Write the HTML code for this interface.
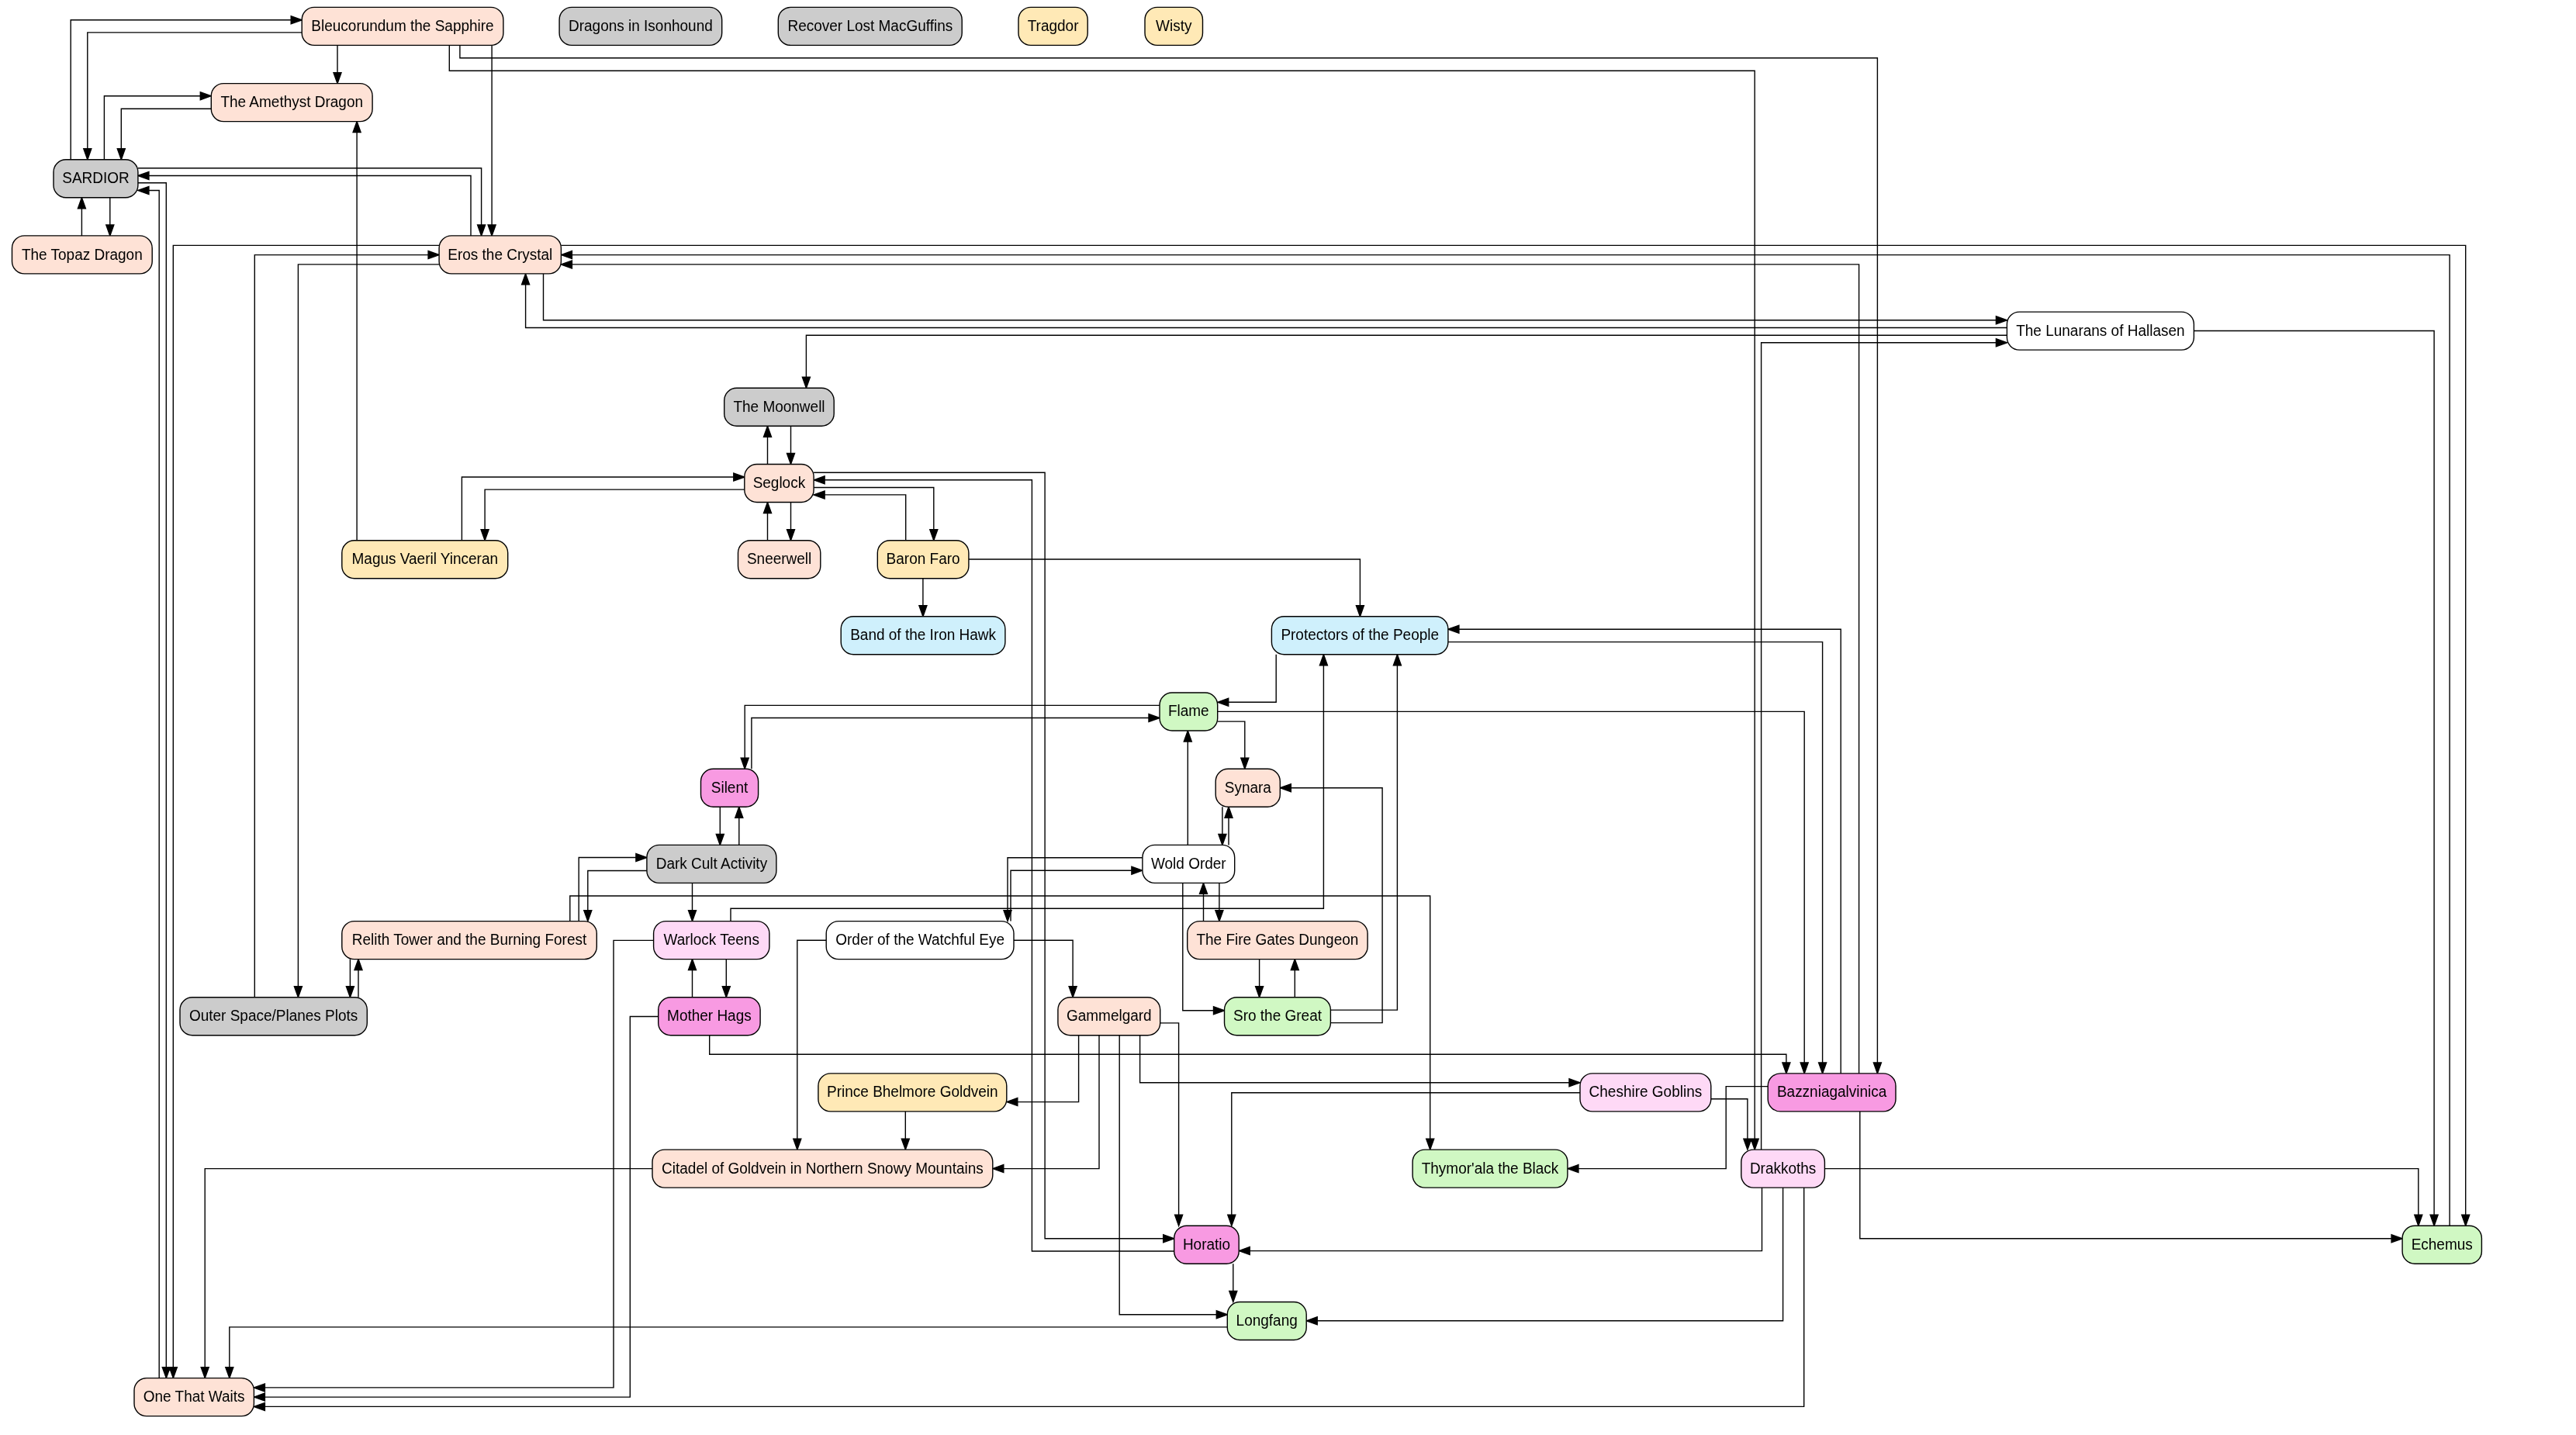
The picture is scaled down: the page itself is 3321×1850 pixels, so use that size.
<!DOCTYPE html><html><head><meta charset="utf-8"><style>html,body{margin:0;padding:0;background:#fff;}svg{display:block;}svg{will-change:transform;}text{font-family:"Liberation Sans",sans-serif;font-size:19px;fill:#000;}</style></head><body>
<svg width="3321" height="1850" viewBox="0 0 3321 1850">
<rect width="3321" height="1850" fill="#fff"/>
<path d="M91.2 205.8 L91.2 25.8 L375.2 25.8 M389.2 41.9 L112.8 41.9 L112.8 191.8 M435.0 58.4 L435.0 93.6 M579.3 58.4 L579.3 91.2 L2262.2 91.2 L2262.2 1468.1 M592.9 58.4 L592.9 74.8 L2420.4 74.8 L2420.4 1369.9 M634.1 58.4 L634.1 289.9 M134.4 205.8 L134.4 123.7 L258.3 123.7 M272.3 140.2 L156.3 140.2 L156.3 191.8 M460.1 696.7 L460.1 170.6 M177.9 216.8 L620.6 216.8 L620.6 289.9 M607.0 303.9 L607.0 226.5 L191.9 226.5 M177.9 235.8 L214.3 235.8 L214.3 1762.6 M205.2 1776.6 L205.2 245.5 L191.9 245.5 M105.4 303.9 L105.4 268.8 M141.8 254.8 L141.8 289.9 M566.1 316.4 L223.3 316.4 L223.3 1762.6 M328.3 1285.7 L328.3 328.6 L552.1 328.6 M566.1 340.9 L384.4 340.9 L384.4 1271.7 M2587.4 422.5 L677.6 422.5 L677.6 366.9 M700.5 352.9 L700.5 412.8 L2573.4 412.8 M723.4 316.4 L3178.7 316.4 L3178.7 1566.3 M3158.1 1580.3 L3158.1 328.6 L737.4 328.6 M2396.6 1383.9 L2396.6 340.9 L737.4 340.9 M2587.4 432.2 L1039.4 432.2 L1039.4 486.3 M2270.6 1482.1 L2270.6 441.8 L2573.4 441.8 M2828.4 426.5 L3138.1 426.5 L3138.1 1566.3 M989.5 598.5 L989.5 563.3 M1019.5 549.3 L1019.5 584.5 M595.4 696.7 L595.4 615.0 L945.8 615.0 M959.8 631.1 L625.1 631.1 L625.1 682.7 M1049.1 609.2 L1347.1 609.2 L1347.1 1596.8 L1499.7 1596.8 M1513.7 1613.0 L1330.4 1613.0 L1330.4 618.8 L1063.1 618.8 M1049.1 628.5 L1203.8 628.5 L1203.8 682.7 M1167.7 696.7 L1167.7 637.9 L1063.1 637.9 M989.5 696.7 L989.5 661.5 M1019.5 647.5 L1019.5 682.7 M1248.9 721.0 L1753.4 721.0 L1753.4 780.8 M1189.9 745.7 L1189.9 780.8 M2373.2 1383.9 L2373.2 811.2 L1880.9 811.2 M1866.9 827.6 L2349.6 827.6 L2349.6 1369.9 M1645.2 843.8 L1645.2 905.3 L1583.7 905.3 M942.0 1187.6 L942.0 1171.3 L1706.4 1171.3 L1706.4 857.8 M1715.4 1302.1 L1801.4 1302.1 L1801.4 857.8 M1495.0 909.4 L960.2 909.4 L960.2 977.2 M968.9 991.2 L968.9 925.5 L1481.0 925.5 M1569.7 917.4 L2326.2 917.4 L2326.2 1369.9 M1569.7 930.1 L1604.8 930.1 L1604.8 977.2 M1531.3 1089.4 L1531.3 956.0 M1575.9 1040.2 L1575.9 1075.4 M1584.0 1089.4 L1584.0 1054.2 M1715.4 1318.6 L1782.1 1318.6 L1782.1 1015.7 L1664.3 1015.7 M1472.9 1105.7 L1299.0 1105.7 L1299.0 1173.6 M1303.0 1187.6 L1303.0 1122.2 L1458.9 1122.2 M1524.8 1138.4 L1524.8 1302.8 L1564.5 1302.8 M1551.5 1187.6 L1551.5 1152.4 M1571.9 1138.4 L1571.9 1173.6 M1623.6 1236.6 L1623.6 1271.7 M1669.3 1285.7 L1669.3 1250.6 M928.3 1040.2 L928.3 1075.4 M952.8 1089.4 L952.8 1054.2 M746.2 1187.6 L746.2 1105.5 L819.9 1105.5 M833.9 1122.5 L757.8 1122.5 L757.8 1173.6 M892.5 1138.4 L892.5 1173.6 M734.8 1187.6 L734.8 1155.0 L1843.7 1155.0 L1843.7 1468.1 M451.4 1236.6 L451.4 1271.7 M462.0 1285.7 L462.0 1250.6 M892.5 1285.7 L892.5 1250.6 M936.3 1236.6 L936.3 1271.7 M842.6 1212.4 L791.0 1212.4 L791.0 1788.9 L341.4 1788.9 M848.7 1310.5 L812.3 1310.5 L812.3 1801.1 L341.4 1801.1 M914.7 1334.7 L914.7 1359.3 L2302.9 1359.3 L2302.9 1369.9 M1065.2 1212.2 L1027.8 1212.2 L1027.8 1468.1 M1307.0 1212.2 L1383.1 1212.2 L1383.1 1271.7 M1495.7 1318.9 L1519.6 1318.9 L1519.6 1566.3 M1390.6 1334.7 L1390.6 1420.6 L1311.8 1420.6 M1417.0 1334.7 L1417.0 1506.6 L1293.8 1506.6 M1443.2 1334.7 L1443.2 1694.8 L1568.3 1694.8 M1469.6 1334.7 L1469.6 1395.8 L2023.0 1395.8 M1167.3 1432.9 L1167.3 1468.1 M841.0 1506.6 L264.2 1506.6 L264.2 1762.6 M2037.0 1408.7 L1587.8 1408.7 L1587.8 1566.3 M2205.8 1416.8 L2252.9 1416.8 L2252.9 1468.1 M2279.2 1400.6 L2225.2 1400.6 L2225.2 1506.6 L2034.9 1506.6 M2397.8 1432.9 L2397.8 1596.8 L3083.1 1596.8 M2352.4 1506.6 L3117.8 1506.6 L3117.8 1566.3 M2271.5 1531.1 L2271.5 1612.6 L1611.2 1612.6 M2298.6 1531.1 L2298.6 1702.8 L1698.2 1702.8 M2325.7 1531.1 L2325.7 1813.4 L341.4 1813.4 M1589.8 1629.3 L1589.8 1664.5 M1582.3 1710.9 L295.8 1710.9 L295.8 1762.6" fill="none" stroke="#000" stroke-width="1.4"/>
<path d="M389.2 25.8 L375.2 30.8 L375.2 20.8 Z M112.8 205.8 L107.8 191.8 L117.8 191.8 Z M435.0 107.6 L430.0 93.6 L440.0 93.6 Z M2262.2 1482.1 L2257.2 1468.1 L2267.2 1468.1 Z M2420.4 1383.9 L2415.4 1369.9 L2425.4 1369.9 Z M634.1 303.9 L629.1 289.9 L639.1 289.9 Z M272.3 123.7 L258.3 128.7 L258.3 118.7 Z M156.3 205.8 L151.3 191.8 L161.3 191.8 Z M460.1 156.6 L465.1 170.6 L455.1 170.6 Z M620.6 303.9 L615.6 289.9 L625.6 289.9 Z M177.9 226.5 L191.9 221.5 L191.9 231.5 Z M214.3 1776.6 L209.3 1762.6 L219.3 1762.6 Z M177.9 245.5 L191.9 240.5 L191.9 250.5 Z M105.4 254.8 L110.4 268.8 L100.4 268.8 Z M141.8 303.9 L136.8 289.9 L146.8 289.9 Z M223.3 1776.6 L218.3 1762.6 L228.3 1762.6 Z M566.1 328.6 L552.1 333.6 L552.1 323.6 Z M384.4 1285.7 L379.4 1271.7 L389.4 1271.7 Z M677.6 352.9 L682.6 366.9 L672.6 366.9 Z M2587.4 412.8 L2573.4 417.8 L2573.4 407.8 Z M3178.7 1580.3 L3173.7 1566.3 L3183.7 1566.3 Z M723.4 328.6 L737.4 323.6 L737.4 333.6 Z M723.4 340.9 L737.4 335.9 L737.4 345.9 Z M1039.4 500.3 L1034.4 486.3 L1044.4 486.3 Z M2587.4 441.8 L2573.4 446.8 L2573.4 436.8 Z M3138.1 1580.3 L3133.1 1566.3 L3143.1 1566.3 Z M989.5 549.3 L994.5 563.3 L984.5 563.3 Z M1019.5 598.5 L1014.5 584.5 L1024.5 584.5 Z M959.8 615.0 L945.8 620.0 L945.8 610.0 Z M625.1 696.7 L620.1 682.7 L630.1 682.7 Z M1513.7 1596.8 L1499.7 1601.8 L1499.7 1591.8 Z M1049.1 618.8 L1063.1 613.8 L1063.1 623.8 Z M1203.8 696.7 L1198.8 682.7 L1208.8 682.7 Z M1049.1 637.9 L1063.1 632.9 L1063.1 642.9 Z M989.5 647.5 L994.5 661.5 L984.5 661.5 Z M1019.5 696.7 L1014.5 682.7 L1024.5 682.7 Z M1753.4 794.8 L1748.4 780.8 L1758.4 780.8 Z M1189.9 794.8 L1184.9 780.8 L1194.9 780.8 Z M1866.9 811.2 L1880.9 806.2 L1880.9 816.2 Z M2349.6 1383.9 L2344.6 1369.9 L2354.6 1369.9 Z M1569.7 905.3 L1583.7 900.3 L1583.7 910.3 Z M1706.4 843.8 L1711.4 857.8 L1701.4 857.8 Z M1801.4 843.8 L1806.4 857.8 L1796.4 857.8 Z M960.2 991.2 L955.2 977.2 L965.2 977.2 Z M1495.0 925.5 L1481.0 930.5 L1481.0 920.5 Z M2326.2 1383.9 L2321.2 1369.9 L2331.2 1369.9 Z M1604.8 991.2 L1599.8 977.2 L1609.8 977.2 Z M1531.3 942.0 L1536.3 956.0 L1526.3 956.0 Z M1575.9 1089.4 L1570.9 1075.4 L1580.9 1075.4 Z M1584.0 1040.2 L1589.0 1054.2 L1579.0 1054.2 Z M1650.3 1015.7 L1664.3 1010.7 L1664.3 1020.7 Z M1299.0 1187.6 L1294.0 1173.6 L1304.0 1173.6 Z M1472.9 1122.2 L1458.9 1127.2 L1458.9 1117.2 Z M1578.5 1302.8 L1564.5 1307.8 L1564.5 1297.8 Z M1551.5 1138.4 L1556.5 1152.4 L1546.5 1152.4 Z M1571.9 1187.6 L1566.9 1173.6 L1576.9 1173.6 Z M1623.6 1285.7 L1618.6 1271.7 L1628.6 1271.7 Z M1669.3 1236.6 L1674.3 1250.6 L1664.3 1250.6 Z M928.3 1089.4 L923.3 1075.4 L933.3 1075.4 Z M952.8 1040.2 L957.8 1054.2 L947.8 1054.2 Z M833.9 1105.5 L819.9 1110.5 L819.9 1100.5 Z M757.8 1187.6 L752.8 1173.6 L762.8 1173.6 Z M892.5 1187.6 L887.5 1173.6 L897.5 1173.6 Z M1843.7 1482.1 L1838.7 1468.1 L1848.7 1468.1 Z M451.4 1285.7 L446.4 1271.7 L456.4 1271.7 Z M462.0 1236.6 L467.0 1250.6 L457.0 1250.6 Z M892.5 1236.6 L897.5 1250.6 L887.5 1250.6 Z M936.3 1285.7 L931.3 1271.7 L941.3 1271.7 Z M327.4 1788.9 L341.4 1783.9 L341.4 1793.9 Z M327.4 1801.1 L341.4 1796.1 L341.4 1806.1 Z M2302.9 1383.9 L2297.9 1369.9 L2307.9 1369.9 Z M1027.8 1482.1 L1022.8 1468.1 L1032.8 1468.1 Z M1383.1 1285.7 L1378.1 1271.7 L1388.1 1271.7 Z M1519.6 1580.3 L1514.6 1566.3 L1524.6 1566.3 Z M1297.8 1420.6 L1311.8 1415.6 L1311.8 1425.6 Z M1279.8 1506.6 L1293.8 1501.6 L1293.8 1511.6 Z M1582.3 1694.8 L1568.3 1699.8 L1568.3 1689.8 Z M2037.0 1395.8 L2023.0 1400.8 L2023.0 1390.8 Z M1167.3 1482.1 L1162.3 1468.1 L1172.3 1468.1 Z M264.2 1776.6 L259.2 1762.6 L269.2 1762.6 Z M1587.8 1580.3 L1582.8 1566.3 L1592.8 1566.3 Z M2252.9 1482.1 L2247.9 1468.1 L2257.9 1468.1 Z M2020.9 1506.6 L2034.9 1501.6 L2034.9 1511.6 Z M3097.1 1596.8 L3083.1 1601.8 L3083.1 1591.8 Z M3117.8 1580.3 L3112.8 1566.3 L3122.8 1566.3 Z M1597.2 1612.6 L1611.2 1607.6 L1611.2 1617.6 Z M1684.2 1702.8 L1698.2 1697.8 L1698.2 1707.8 Z M327.4 1813.4 L341.4 1808.4 L341.4 1818.4 Z M1589.8 1678.5 L1584.8 1664.5 L1594.8 1664.5 Z M295.8 1776.6 L290.8 1762.6 L300.8 1762.6 Z" fill="#000" stroke="#000" stroke-width="1.4"/>
<rect x="389.2" y="9.4" width="259.7" height="49.0" rx="16" ry="16" fill="#fee2d6" stroke="#000" stroke-width="1.4"/>
<text transform="translate(519.0 40.00) scale(1 1.07)" text-anchor="middle">Bleucorundum the Sapphire</text>
<rect x="721.1" y="9.4" width="209.6" height="49.0" rx="16" ry="16" fill="#cccccc" stroke="#000" stroke-width="1.4"/>
<text transform="translate(825.9 40.00) scale(1 1.07)" text-anchor="middle">Dragons in Isonhound</text>
<rect x="1003.3" y="9.4" width="236.9" height="49.0" rx="16" ry="16" fill="#cccccc" stroke="#000" stroke-width="1.4"/>
<text transform="translate(1121.8 40.00) scale(1 1.07)" text-anchor="middle">Recover Lost MacGuffins</text>
<rect x="1313.0" y="9.4" width="89.2" height="49.0" rx="16" ry="16" fill="#ffe9b6" stroke="#000" stroke-width="1.4"/>
<text transform="translate(1357.6 40.00) scale(1 1.07)" text-anchor="middle">Tragdor</text>
<rect x="1476.0" y="9.4" width="74.5" height="49.0" rx="16" ry="16" fill="#ffe9b6" stroke="#000" stroke-width="1.4"/>
<text transform="translate(1513.2 40.00) scale(1 1.07)" text-anchor="middle">Wisty</text>
<rect x="272.3" y="107.6" width="207.8" height="49.0" rx="16" ry="16" fill="#fee2d6" stroke="#000" stroke-width="1.4"/>
<text transform="translate(376.2 138.00) scale(1 1.07)" text-anchor="middle">The Amethyst Dragon</text>
<rect x="69.0" y="205.8" width="108.9" height="49.0" rx="16" ry="16" fill="#cccccc" stroke="#000" stroke-width="1.4"/>
<text transform="translate(123.5 236.00) scale(1 1.07)" text-anchor="middle">SARDIOR</text>
<rect x="15.5" y="303.9" width="180.7" height="49.0" rx="16" ry="16" fill="#fee2d6" stroke="#000" stroke-width="1.4"/>
<text transform="translate(105.8 335.00) scale(1 1.07)" text-anchor="middle">The Topaz Dragon</text>
<rect x="566.1" y="303.9" width="157.3" height="49.0" rx="16" ry="16" fill="#fee2d6" stroke="#000" stroke-width="1.4"/>
<text transform="translate(644.8 335.00) scale(1 1.07)" text-anchor="middle">Eros the Crystal</text>
<rect x="2587.4" y="402.1" width="241.0" height="49.0" rx="16" ry="16" fill="#ffffff" stroke="#000" stroke-width="1.4"/>
<text transform="translate(2707.9 433.00) scale(1 1.07)" text-anchor="middle">The Lunarans of Hallasen</text>
<rect x="933.7" y="500.3" width="141.5" height="49.0" rx="16" ry="16" fill="#cccccc" stroke="#000" stroke-width="1.4"/>
<text transform="translate(1004.5 531.00) scale(1 1.07)" text-anchor="middle">The Moonwell</text>
<rect x="959.8" y="598.5" width="89.3" height="49.0" rx="16" ry="16" fill="#fee2d6" stroke="#000" stroke-width="1.4"/>
<text transform="translate(1004.4 629.00) scale(1 1.07)" text-anchor="middle">Seglock</text>
<rect x="440.8" y="696.7" width="213.9" height="49.0" rx="16" ry="16" fill="#ffe9b6" stroke="#000" stroke-width="1.4"/>
<text transform="translate(547.8 727.00) scale(1 1.07)" text-anchor="middle">Magus Vaeril Yinceran</text>
<rect x="951.5" y="696.7" width="106.3" height="49.0" rx="16" ry="16" fill="#fee2d6" stroke="#000" stroke-width="1.4"/>
<text transform="translate(1004.6 727.00) scale(1 1.07)" text-anchor="middle">Sneerwell</text>
<rect x="1131.3" y="696.7" width="117.6" height="49.0" rx="16" ry="16" fill="#ffe9b6" stroke="#000" stroke-width="1.4"/>
<text transform="translate(1190.1 727.00) scale(1 1.07)" text-anchor="middle">Baron Faro</text>
<rect x="1084.2" y="794.8" width="211.7" height="49.0" rx="16" ry="16" fill="#cff0fc" stroke="#000" stroke-width="1.4"/>
<text transform="translate(1190.1 825.00) scale(1 1.07)" text-anchor="middle">Band of the Iron Hawk</text>
<rect x="1639.4" y="794.8" width="227.5" height="49.0" rx="16" ry="16" fill="#cff0fc" stroke="#000" stroke-width="1.4"/>
<text transform="translate(1753.2 825.00) scale(1 1.07)" text-anchor="middle">Protectors of the People</text>
<rect x="1495.0" y="893.0" width="74.7" height="49.0" rx="16" ry="16" fill="#d0f8c3" stroke="#000" stroke-width="1.4"/>
<text transform="translate(1532.3 923.00) scale(1 1.07)" text-anchor="middle">Flame</text>
<rect x="903.5" y="991.2" width="74.1" height="49.0" rx="16" ry="16" fill="#f89ae2" stroke="#000" stroke-width="1.4"/>
<text transform="translate(940.5 1022.00) scale(1 1.07)" text-anchor="middle">Silent</text>
<rect x="1567.2" y="991.2" width="83.1" height="49.0" rx="16" ry="16" fill="#fee2d6" stroke="#000" stroke-width="1.4"/>
<text transform="translate(1608.8 1022.00) scale(1 1.07)" text-anchor="middle">Synara</text>
<rect x="833.9" y="1089.4" width="167.0" height="49.0" rx="16" ry="16" fill="#cccccc" stroke="#000" stroke-width="1.4"/>
<text transform="translate(917.4 1120.00) scale(1 1.07)" text-anchor="middle">Dark Cult Activity</text>
<rect x="1472.9" y="1089.4" width="118.8" height="49.0" rx="16" ry="16" fill="#ffffff" stroke="#000" stroke-width="1.4"/>
<text transform="translate(1532.3 1120.00) scale(1 1.07)" text-anchor="middle">Wold Order</text>
<rect x="440.8" y="1187.6" width="328.5" height="49.0" rx="16" ry="16" fill="#fee2d6" stroke="#000" stroke-width="1.4"/>
<text transform="translate(605.0 1218.00) scale(1 1.07)" text-anchor="middle">Relith Tower and the Burning Forest</text>
<rect x="842.6" y="1187.6" width="149.3" height="49.0" rx="16" ry="16" fill="#fed9f6" stroke="#000" stroke-width="1.4"/>
<text transform="translate(917.2 1218.00) scale(1 1.07)" text-anchor="middle">Warlock Teens</text>
<rect x="1065.2" y="1187.6" width="241.8" height="49.0" rx="16" ry="16" fill="#ffffff" stroke="#000" stroke-width="1.4"/>
<text transform="translate(1186.1 1218.00) scale(1 1.07)" text-anchor="middle">Order of the Watchful Eye</text>
<rect x="1530.7" y="1187.6" width="232.4" height="49.0" rx="16" ry="16" fill="#fee2d6" stroke="#000" stroke-width="1.4"/>
<text transform="translate(1646.9 1218.00) scale(1 1.07)" text-anchor="middle">The Fire Gates Dungeon</text>
<rect x="232.0" y="1285.7" width="241.3" height="49.0" rx="16" ry="16" fill="#cccccc" stroke="#000" stroke-width="1.4"/>
<text transform="translate(352.6 1316.00) scale(1 1.07)" text-anchor="middle">Outer Space/Planes Plots</text>
<rect x="848.7" y="1285.7" width="131.4" height="49.0" rx="16" ry="16" fill="#f89ae2" stroke="#000" stroke-width="1.4"/>
<text transform="translate(914.4 1316.00) scale(1 1.07)" text-anchor="middle">Mother Hags</text>
<rect x="1363.9" y="1285.7" width="131.8" height="49.0" rx="16" ry="16" fill="#fee2d6" stroke="#000" stroke-width="1.4"/>
<text transform="translate(1429.8 1316.00) scale(1 1.07)" text-anchor="middle">Gammelgard</text>
<rect x="1578.5" y="1285.7" width="136.9" height="49.0" rx="16" ry="16" fill="#d0f8c3" stroke="#000" stroke-width="1.4"/>
<text transform="translate(1647.0 1316.00) scale(1 1.07)" text-anchor="middle">Sro the Great</text>
<rect x="1054.9" y="1383.9" width="242.9" height="49.0" rx="16" ry="16" fill="#ffe9b6" stroke="#000" stroke-width="1.4"/>
<text transform="translate(1176.3 1414.00) scale(1 1.07)" text-anchor="middle">Prince Bhelmore Goldvein</text>
<rect x="2037.0" y="1383.9" width="168.8" height="49.0" rx="16" ry="16" fill="#fed9f6" stroke="#000" stroke-width="1.4"/>
<text transform="translate(2121.4 1414.00) scale(1 1.07)" text-anchor="middle">Cheshire Goblins</text>
<rect x="2279.2" y="1383.9" width="164.8" height="49.0" rx="16" ry="16" fill="#f89ae2" stroke="#000" stroke-width="1.4"/>
<text transform="translate(2361.6 1414.00) scale(1 1.07)" text-anchor="middle">Bazzniagalvinica</text>
<rect x="841.0" y="1482.1" width="438.8" height="49.0" rx="16" ry="16" fill="#fee2d6" stroke="#000" stroke-width="1.4"/>
<text transform="translate(1060.4 1513.00) scale(1 1.07)" text-anchor="middle">Citadel of Goldvein in Northern Snowy Mountains</text>
<rect x="1821.1" y="1482.1" width="199.8" height="49.0" rx="16" ry="16" fill="#d0f8c3" stroke="#000" stroke-width="1.4"/>
<text transform="translate(1921.0 1513.00) scale(1 1.07)" text-anchor="middle">Thymor&#39;ala the Black</text>
<rect x="2244.8" y="1482.1" width="107.6" height="49.0" rx="16" ry="16" fill="#fed9f6" stroke="#000" stroke-width="1.4"/>
<text transform="translate(2298.6 1513.00) scale(1 1.07)" text-anchor="middle">Drakkoths</text>
<rect x="1513.7" y="1580.3" width="83.5" height="49.0" rx="16" ry="16" fill="#f89ae2" stroke="#000" stroke-width="1.4"/>
<text transform="translate(1555.5 1611.00) scale(1 1.07)" text-anchor="middle">Horatio</text>
<rect x="3097.1" y="1580.3" width="102.3" height="49.0" rx="16" ry="16" fill="#d0f8c3" stroke="#000" stroke-width="1.4"/>
<text transform="translate(3148.2 1611.00) scale(1 1.07)" text-anchor="middle">Echemus</text>
<rect x="1582.3" y="1678.5" width="101.9" height="49.0" rx="16" ry="16" fill="#d0f8c3" stroke="#000" stroke-width="1.4"/>
<text transform="translate(1633.2 1709.00) scale(1 1.07)" text-anchor="middle">Longfang</text>
<rect x="173.0" y="1776.6" width="154.4" height="49.0" rx="16" ry="16" fill="#fee2d6" stroke="#000" stroke-width="1.4"/>
<text transform="translate(250.2 1807.00) scale(1 1.07)" text-anchor="middle">One That Waits</text>
</svg></body></html>
